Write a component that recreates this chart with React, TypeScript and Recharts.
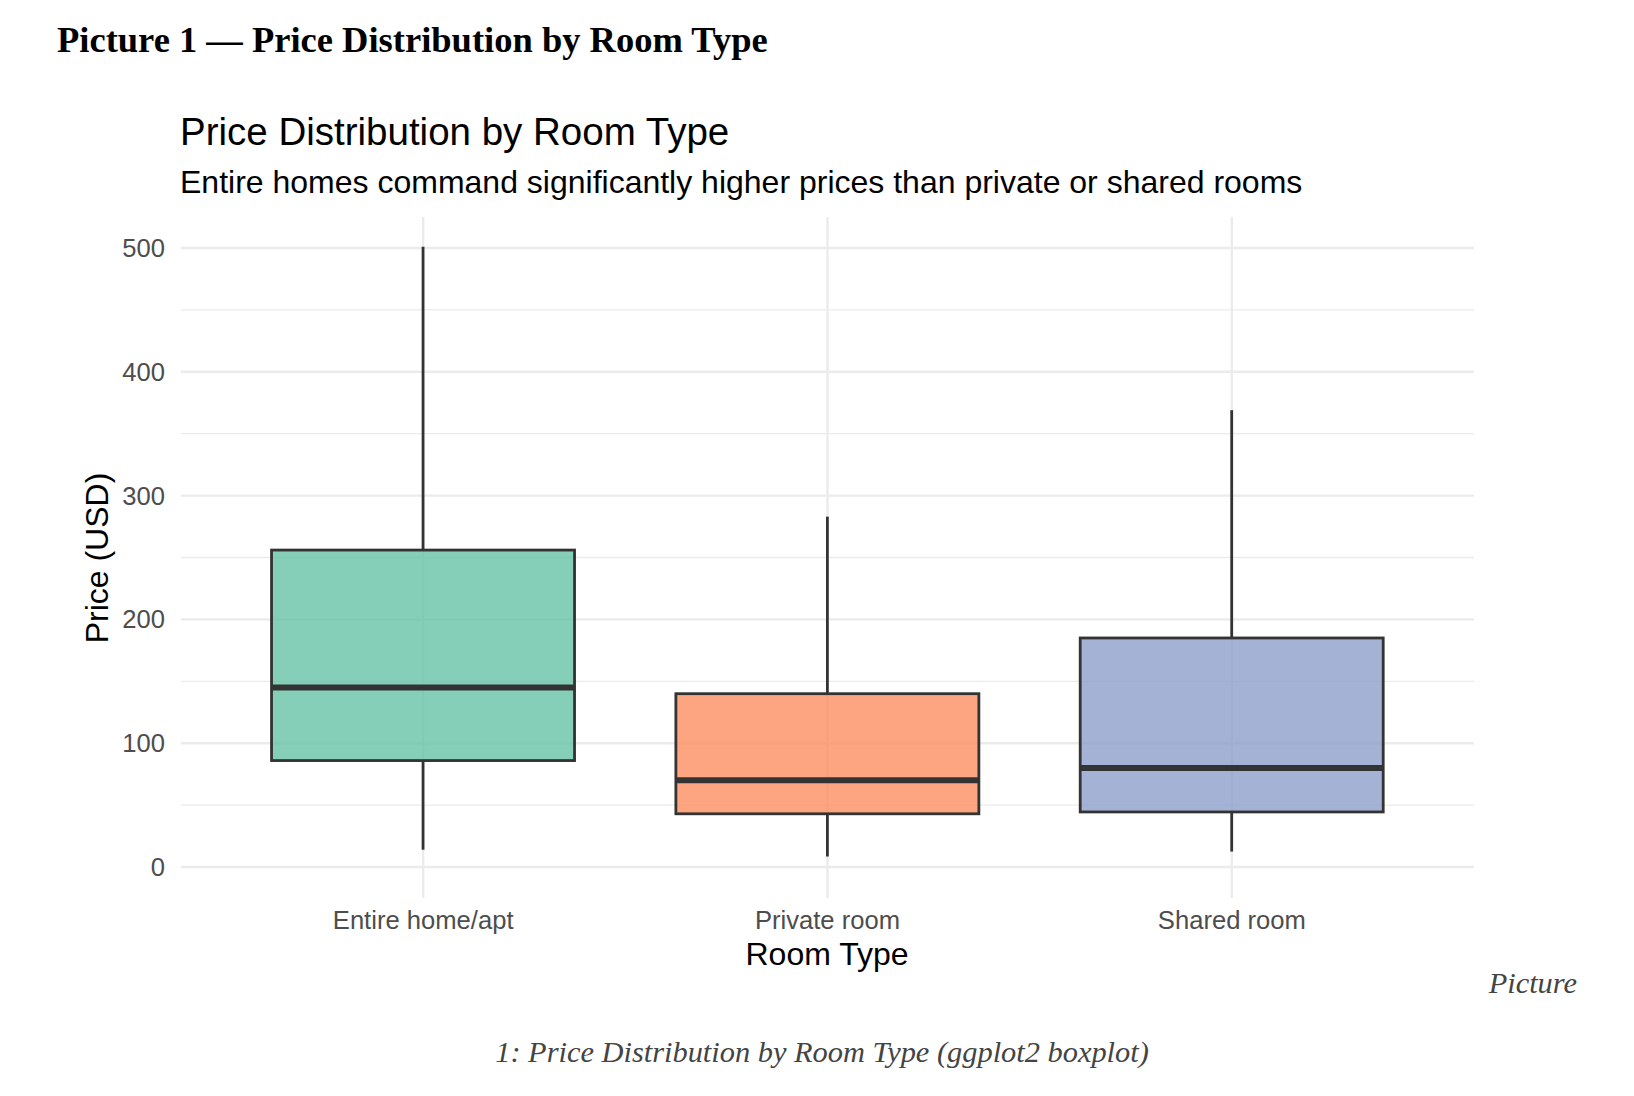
import React from 'react';
import { ComposedChart, Bar, XAxis, YAxis, CartesianGrid } from 'recharts';

const categories = ['Entire home/apt', 'Private room', 'Shared room'];
const lowerWhisker = [14, 8.5, 12.5];
const q1Values = [86, 43, 44.5];
const medianValues = [145, 70, 80];
const q3Values = [256, 140, 185];
const upperWhisker = [501, 283, 369];
const fillColors = ['#66C2A5', '#FC8D62', '#8DA0CB'];
const yTicks = [0, 50, 100, 150, 200, 250, 300, 350, 400, 450, 500];
const yDomain: [number, number] = [-25, 525];

const data = categories.map((name, i) => ({
  name,
  low: lowerWhisker[i],
  q1: q1Values[i],
  median: medianValues[i],
  q3: q3Values[i],
  high: upperWhisker[i],
  fill: fillColors[i],
}));

const SANS = '"Liberation Sans", Arial, Helvetica, sans-serif';
const SERIF = '"Liberation Serif", "Times New Roman", serif';
const EDGE = '#333333';

const BoxShape = (props: any) => {
  const { x, y, width, height } = props;
  const p = props.payload ?? props;
  const top = Math.min(y, y + height);
  const h = Math.abs(height);
  const ppu = h / (p.q3 - p.q1);
  const yOf = (v: number) => top + (p.q3 - v) * ppu;
  const cx = x + width / 2;
  return (
    <g>
      <line x1={cx} x2={cx} y1={yOf(p.high)} y2={yOf(p.q3)} stroke={EDGE} strokeWidth={2.8} />
      <line x1={cx} x2={cx} y1={yOf(p.q1)} y2={yOf(p.low)} stroke={EDGE} strokeWidth={2.8} />
      <rect x={x} y={top} width={width} height={h} fill={p.fill} fillOpacity={0.8} stroke={EDGE} strokeWidth={2.8} />
      <line x1={x} x2={x + width} y1={yOf(p.median)} y2={yOf(p.median)} stroke={EDGE} strokeWidth={6} />
    </g>
  );
};

const HLine = (props: any) => {
  const { x1, x2, y1, y2, index } = props;
  return (
    <line x1={x1} x2={x2} y1={y1} y2={y2} stroke="#ebebeb" strokeWidth={index % 2 === 0 ? 2.4 : 1.3} fill="none" />
  );
};

export default function App() {
  return (
    <div style={{ position: 'absolute', left: 0, top: 0, width: 1634, height: 1096, background: '#fff', overflow: 'hidden' }}>
      <div style={{ position: 'absolute', left: 57, top: 40 - 18.25, fontFamily: SERIF, fontWeight: 'bold', fontSize: 36.5, lineHeight: '36.5px', color: '#000', whiteSpace: 'nowrap' }}>
        Picture 1 — Price Distribution by Room Type
      </div>
      <div style={{ position: 'absolute', left: 180, top: 132 - 19.25, fontFamily: SANS, fontSize: 38.5, lineHeight: '38.5px', color: '#000', whiteSpace: 'nowrap' }}>
        Price Distribution by Room Type
      </div>
      <div style={{ position: 'absolute', left: 180, top: 182 - 16, fontFamily: SANS, fontSize: 32, lineHeight: '32px', color: '#000', whiteSpace: 'nowrap' }}>
        Entire homes command significantly higher prices than private or shared rooms
      </div>
      <div style={{ position: 'absolute', left: 0, top: 0 }}>
        <ComposedChart
          width={1634}
          height={1096}
          data={data}
          margin={{ top: 217, right: 160, bottom: 138, left: 101 }}
          barCategoryGap="12.5%"
        >
          <CartesianGrid
            stroke="#ebebeb"
            strokeWidth={2.4}
            syncWithTicks={true}
            horizontal={(p: any) => <HLine key={p.key} {...p} />}
            vertical={true}
          />
          <XAxis
            dataKey="name"
            type="category"
            padding={{ left: 40, right: 40 }}
            tickLine={false}
            axisLine={false}
            interval={0}
            height={60}
            tickMargin={7}
            tick={{ fontFamily: SANS, fontSize: 25.6, fill: '#4d4d4d' }}
          />
          <YAxis
            type="number"
            domain={yDomain}
            ticks={yTicks}
            allowDataOverflow
            tickFormatter={(v: number) => (v % 100 === 0 ? String(v) : '')}
            width={80}
            tickLine={false}
            axisLine={false}
            tickMargin={10}
            tick={{ fontFamily: SANS, fontSize: 25.6, fill: '#4d4d4d' }}
          />
          <Bar dataKey={(d: any) => [d.q1, d.q3]} shape={(p: any) => <BoxShape {...p} />} isAnimationActive={false} />
        </ComposedChart>
      </div>
      <div style={{ position: 'absolute', left: 827 - 200, width: 400, top: 954 - 16, textAlign: 'center', fontFamily: SANS, fontSize: 32, lineHeight: '32px', color: '#000' }}>
        Room Type
      </div>
      <div style={{ position: 'absolute', left: 97 - 150, top: 558 - 16, width: 300, height: 32, textAlign: 'center', fontFamily: SANS, fontSize: 32, lineHeight: '32px', color: '#000', transform: 'rotate(-90deg)', transformOrigin: '150px 16px' }}>
        Price (USD)
      </div>
      <div style={{ position: 'absolute', right: 1634 - 1577, top: 983 - 15.2, fontFamily: SERIF, fontStyle: 'italic', fontSize: 30.4, lineHeight: '30.4px', color: '#444', whiteSpace: 'nowrap' }}>
        Picture
      </div>
      <div style={{ position: 'absolute', left: 822 - 500, width: 1000, top: 1052 - 15.2, textAlign: 'center', fontFamily: SERIF, fontStyle: 'italic', fontSize: 30.4, lineHeight: '30.4px', color: '#444', whiteSpace: 'nowrap' }}>
        1: Price Distribution by Room Type (ggplot2 boxplot)
      </div>
    </div>
  );
}
